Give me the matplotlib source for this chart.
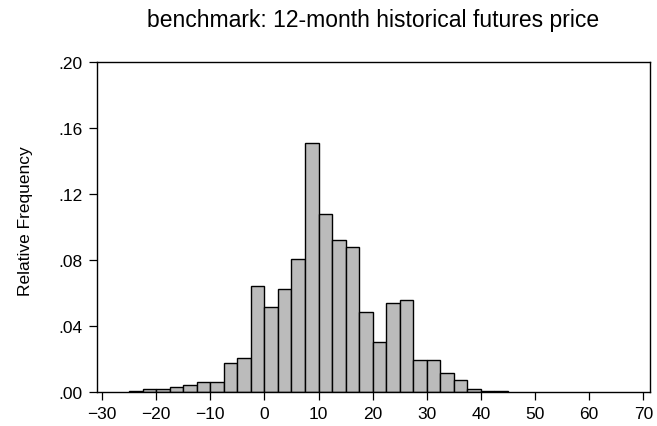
import numpy as np
import matplotlib
matplotlib.use("Agg")
import matplotlib.pyplot as plt
from matplotlib.ticker import FuncFormatter

plt.rcParams["font.family"] = ["Liberation Sans", "DejaVu Sans"]

# histogram of the benchmark error, bins of 2.5 starting at -25
bin_start = -25.0
bin_width = 2.5
rel_freq = [
    0.0008, 0.0018, 0.0018, 0.0030, 0.0042, 0.0060, 0.0060,
    0.0175, 0.0204, 0.0640, 0.0516, 0.0621, 0.0806, 0.1512,
    0.1079, 0.0921, 0.0881, 0.0486, 0.0300, 0.0536, 0.0559,
    0.0194, 0.0194, 0.0113, 0.0069, 0.0018, 0.0006, 0.0006,
]
x_ticks = [-30, -20, -10, 0, 10, 20, 30, 40, 50, 60, 70]
y_ticks = [0.00, 0.04, 0.08, 0.12, 0.16, 0.20]

left_edges = bin_start + bin_width * np.arange(len(rel_freq))

fig = plt.figure(figsize=(6.57, 4.27), dpi=100)
ax = fig.add_axes([0.147, 0.080, 0.842, 0.772])

ax.bar(left_edges, rel_freq, width=bin_width, align="edge",
       color="#bbbbbb", edgecolor="black", linewidth=1.0)

ax.set_xlim(-31.0, 71.2)
ax.set_ylim(0, 0.20)
ax.set_xticks(x_ticks)
ax.set_yticks(y_ticks)
ax.yaxis.set_major_formatter(FuncFormatter(lambda v, p: ("%.2f" % v)[1:]))

ax.tick_params(direction="out", length=6, width=0.9, labelsize=12.5,
               colors="black", pad=4)
for s in ax.spines.values():
    s.set_linewidth(1.0)

ax.set_title("benchmark: 12-month historical futures price",
             fontsize=16.5, pad=26)
ax.set_ylabel("Relative Frequency", fontsize=12.5)
ax.yaxis.set_label_coords(-0.115, 0.52)

fig.savefig("out.png", dpi=100)
